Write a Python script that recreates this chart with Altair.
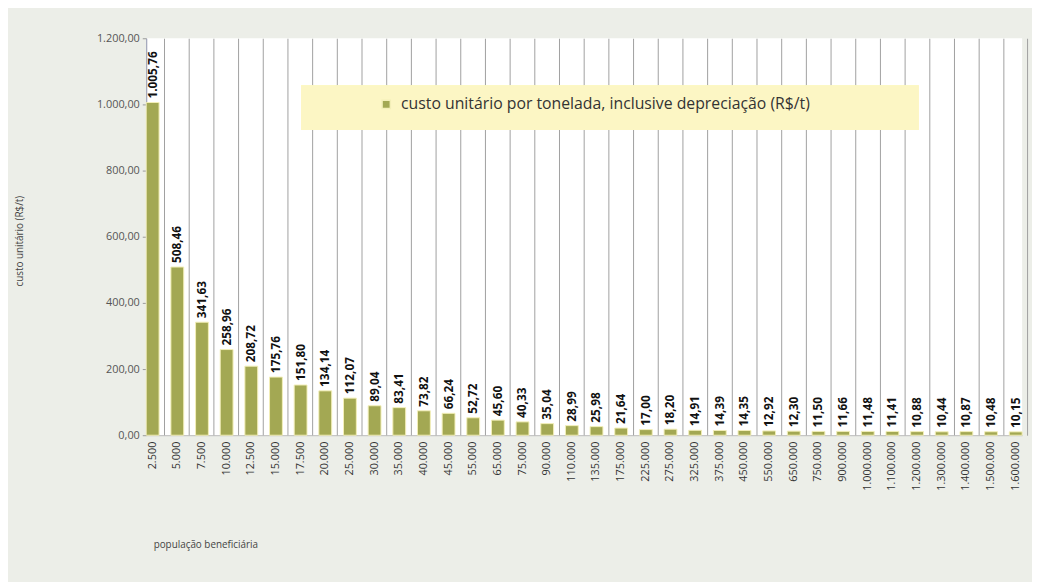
import altair as alt
import pandas as pd

populacao = ["2.500", "5.000", "7.500", "10.000", "12.500", "15.000", "17.500", "20.000",
             "25.000", "30.000", "35.000", "40.000", "45.000", "55.000", "65.000", "75.000",
             "90.000", "110.000", "135.000", "175.000", "225.000", "275.000", "325.000",
             "375.000", "450.000", "550.000", "650.000", "750.000", "900.000", "1.000.000",
             "1.100.000", "1.200.000", "1.300.000", "1.400.000", "1.500.000", "1.600.000"]
custo = [1005.76, 508.46, 341.63, 258.96, 208.72, 175.76, 151.80, 134.14, 112.07, 89.04,
         83.41, 73.82, 66.24, 52.72, 45.60, 40.33, 35.04, 28.99, 25.98, 21.64, 17.00, 18.20,
         14.91, 14.39, 14.35, 12.92, 12.30, 11.50, 11.66, 11.48, 11.41, 10.88, 10.44, 10.87,
         10.48, 10.15]
serie = "custo unitário por tonelada, inclusive depreciação (R$/t)"
y_ticks = [0, 200, 400, 600, 800, 1000, 1200]

df = pd.DataFrame({"pop": populacao, "custo": custo, "serie": [serie] * len(custo)})

xscale = alt.Scale(paddingInner=0.48, paddingOuter=0)
yscale = alt.Scale(domain=[0, 1200])
yaxis = alt.Axis(values=y_ticks, format=",.2f", grid=False, title="custo unitário (R$/t)",
                 titleX=-128, titleY=205, titleAngle=270, titleAlign="center",
                 titleBaseline="middle", titleFontSize=10, titleFontWeight="normal",
                 titleColor="#444444", labelFontSize=11, labelColor="#555555",
                 tickSize=4, tickColor="#999999", domainColor="#8a90aa", labelPadding=3)

base = alt.Chart(df)

bars = base.mark_bar(stroke="#f3efb8", strokeWidth=1).encode(
    x=alt.X("pop:N", sort=None, scale=xscale,
            axis=alt.Axis(orient="top", grid=True, gridColor="#a0a0a0", gridWidth=1,
                          labels=False, ticks=False, domain=False, title=None,
                          bandPosition=1.46)),
    y=alt.Y("custo:Q", scale=yscale, axis=yaxis),
    color=alt.Color("serie:N", scale=alt.Scale(range=["#a3a853"]),
                    legend=alt.Legend(orient="none", legendX=235, legendY=59, title=None,
                                      symbolType="square", symbolSize=70,
                                      labelFontSize=16, labelLimit=0, labelColor="#333333",
                                      labelOffset=7, padding=0)),
)

legend_box = base.mark_rect(color="#fcf6c4").encode(
    x=alt.value(157), x2=alt.value(782), y=alt.value(48), y2=alt.value(93)
)

labels = base.mark_text(align="left", baseline="middle", dx=4, angle=270,
                        fontSize=12, fontWeight="bold", color="#111111").encode(
    x=alt.X("pop:N", sort=None, scale=xscale,
            axis=alt.Axis(orient="bottom", labelAngle=270, labelFontSize=11,
                          labelColor="#333333", ticks=False, labelPadding=6,
                          domainColor="#bbbbbb", grid=False,
                          title="população beneficiária", titleX=7, titleY=111,
                          titleAlign="left", titleBaseline="middle", titleFontSize=10,
                          titleFontWeight="normal", titleColor="#444444")),
    y=alt.Y("custo:Q", scale=yscale, axis=yaxis),
    text=alt.Text("custo:Q", format=",.2f"),
)

chart = alt.layer(bars, legend_box, labels).resolve_axis(x="independent").properties(
    width=887, height=402,
    padding={"left": 140, "top": 27, "right": 10, "bottom": 145},
    autosize="none",
).configure(
    background="#eceee8",
    font="Open Sans",
    locale={"number": {"decimal": ",", "thousands": ".", "grouping": [3],
                       "currency": ["R$", ""]}},
).configure_view(stroke=None, fill="white")

chart.save("out.html", embed_options={"renderer": "svg", "actions": False})
